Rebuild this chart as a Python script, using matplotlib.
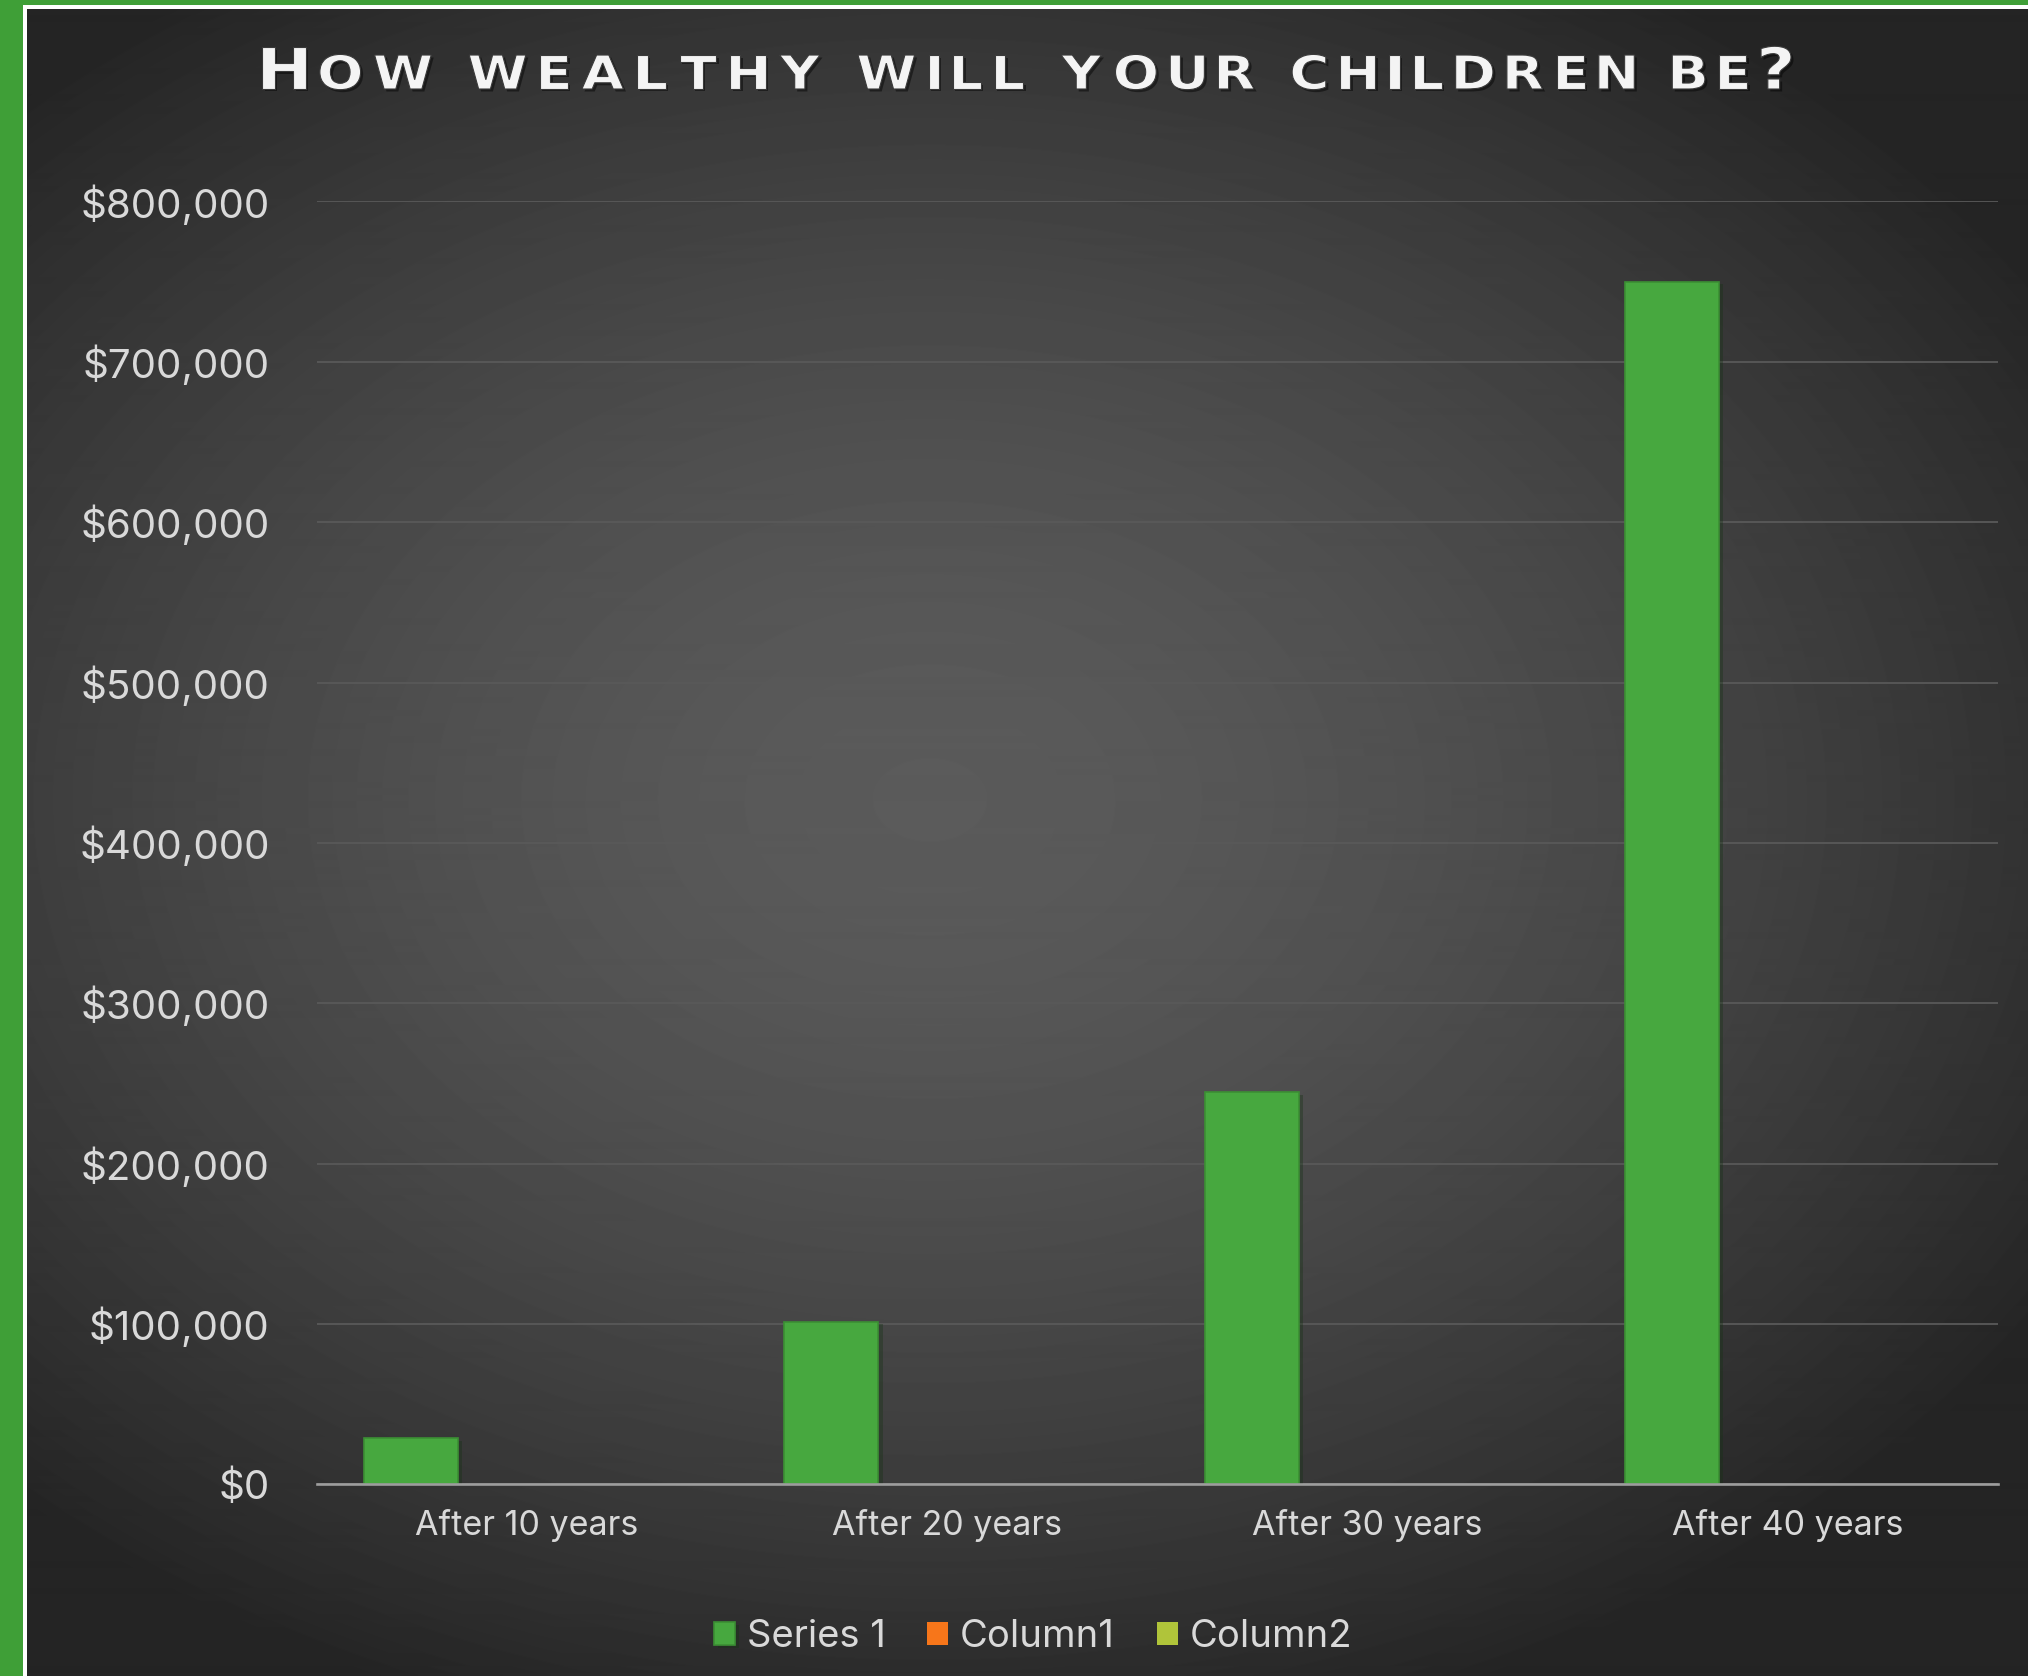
import numpy as np
import matplotlib
matplotlib.use('Agg')
import matplotlib.pyplot as plt
from matplotlib.ticker import FuncFormatter, MultipleLocator
from matplotlib.textpath import TextPath
from matplotlib.font_manager import FontProperties
from matplotlib.patches import PathPatch, Rectangle
from matplotlib.transforms import Affine2D
import matplotlib.patheffects as pe

# data
categories = ['After 10 years', 'After 20 years', 'After 30 years', 'After 40 years']
series_1 = [29000, 101400, 244600, 750000]
column1 = [0, 0, 0, 0]
column2 = [0, 0, 0, 0]
series_names = ['Series 1', 'Column1', 'Column2']
title = 'How wealthy will your children be?'

W, H = 2028, 1676
plt.rcParams['font.family'] = ['Inter', 'DejaVu Sans']
txt_col = '#d9d9d9'

fig = plt.figure(figsize=(W / 100, H / 100), dpi=100)
pix = Affine2D().scale(1 / W, 1 / H) + fig.transFigure

# dark radial background
bg = fig.add_axes([0, 0, 1, 1], zorder=-10)
yy, xx = np.mgrid[0:H, 0:W]
r = np.sqrt(((xx - 930) / 1300) ** 2 + ((yy - 800) / 950) ** 2)
shade = 91 - 53 * np.clip(r, 0, 1.2) ** 1.6
shade = np.clip(shade, 36, 255)
bg.imshow(shade, cmap='gray', vmin=0, vmax=255, aspect='auto',
          extent=(0, W, H, 0), interpolation='bilinear')
bg.set_xlim(0, W)
bg.set_ylim(H, 0)
bg.axis('off')

# frame: green strip with white inner line (left and top)
for rect in [(0, 0, 27, H), (0, H - 9, W, 9)]:
    fig.add_artist(Rectangle(rect[:2], rect[2], rect[3], fc='white', lw=0, transform=pix))
for rect in [(0, 0, 23, H), (0, H - 5, W, 5)]:
    fig.add_artist(Rectangle(rect[:2], rect[2], rect[3], fc='#3f9f37', lw=0, transform=pix))

# main chart
ax = fig.add_axes([317 / W, 1 - 1484.3 / H, (1998 - 317) / W, (1484.3 - 201.5) / H], zorder=1)
ax.set_facecolor('none')
x = np.arange(len(categories))
off, bw = 0.276, 0.224
shadow = [pe.SimplePatchShadow(offset=(3, -2), alpha=0.35), pe.Normal()]
b1 = ax.bar(x - off, series_1, width=bw, color='#47a83f', edgecolor='#3b8f34', lw=1.2,
            label=series_names[0], zorder=3)
for p in b1:
    p.set_path_effects(shadow)
ax.bar(x, column1, width=bw, color='#f7761a', lw=0, label=series_names[1], zorder=3)
ax.bar(x + off, column2, width=bw, color='#b0c43a', lw=0, label=series_names[2], zorder=3)

ax.set_xlim(-0.5, len(categories) - 0.5)
ax.set_ylim(0, 800000)
ax.yaxis.set_major_locator(MultipleLocator(100000))
ax.yaxis.set_major_formatter(FuncFormatter(lambda v, _: f'${v:,.0f}'))
ax.set_xticks(x)
ax.set_xticklabels(categories)
ax.yaxis.grid(True, color='#595959', lw=1.3, zorder=0)
ax.set_axisbelow(True)
for s in ['left', 'right', 'top']:
    ax.spines[s].set_visible(False)
ax.spines['bottom'].set_color('#9d9d9d')
ax.spines['bottom'].set_linewidth(1.9)
ax.spines['bottom'].set_zorder(4)
ax.tick_params(axis='y', length=0, pad=34, labelsize=29, labelcolor=txt_col)
ax.tick_params(axis='x', length=0, pad=18, labelsize=24.5, labelcolor=txt_col)

leg = fig.legend(loc='center', bbox_to_anchor=(1033 / W, 39 / H), ncol=3, frameon=False,
                 fontsize=27.5, handlelength=0.55, handleheight=0.55, handletextpad=0.3,
                 columnspacing=1.1, labelcolor=txt_col)

# small-caps, extended title built from glyph paths
fp = FontProperties(family='DejaVu Sans', weight='bold')
big, small = 57.6, 46.6
glyphs = []
for ch in title:
    if ch == ' ':
        glyphs.append(None)
    else:
        size = big if (ch.isupper() or ch == '?') else small
        glyphs.append(TextPath((0, 0), ch.upper(), size=size, prop=fp))
letter_gap, word_gap = 14, 38
ink = sum(g.get_extents().width for g in glyphs if g is not None)
gaps = 0
for a, b in zip(glyphs[:-1], glyphs[1:]):
    if a is not None and b is not None:
        gaps += letter_gap
gaps += word_gap * sum(1 for g in glyphs if g is None)
sx = (1791 - 262 - gaps) / ink
cursor, base = 262, H - 89
prev = None
for g in glyphs:
    if g is None:
        cursor += word_gap
        prev = None
        continue
    if prev is not None:
        cursor += letter_gap
    e = g.get_extents()
    tr = Affine2D().translate(-e.x0, 0).scale(sx, 1).translate(cursor, base)
    path = tr.transform_path(g)
    sh = Affine2D().translate(2.5, -2.5).transform_path(path)
    fig.add_artist(PathPatch(sh, fc='black', alpha=0.45, lw=0, transform=pix))
    # thin the stems a little with a dark outline on the face
    fig.add_artist(PathPatch(path, fc='#f4f4f4', ec='#3a3a3a', lw=0.8, transform=pix))
    cursor += e.width * sx
    prev = g

fig.savefig('out.png', dpi=100)
